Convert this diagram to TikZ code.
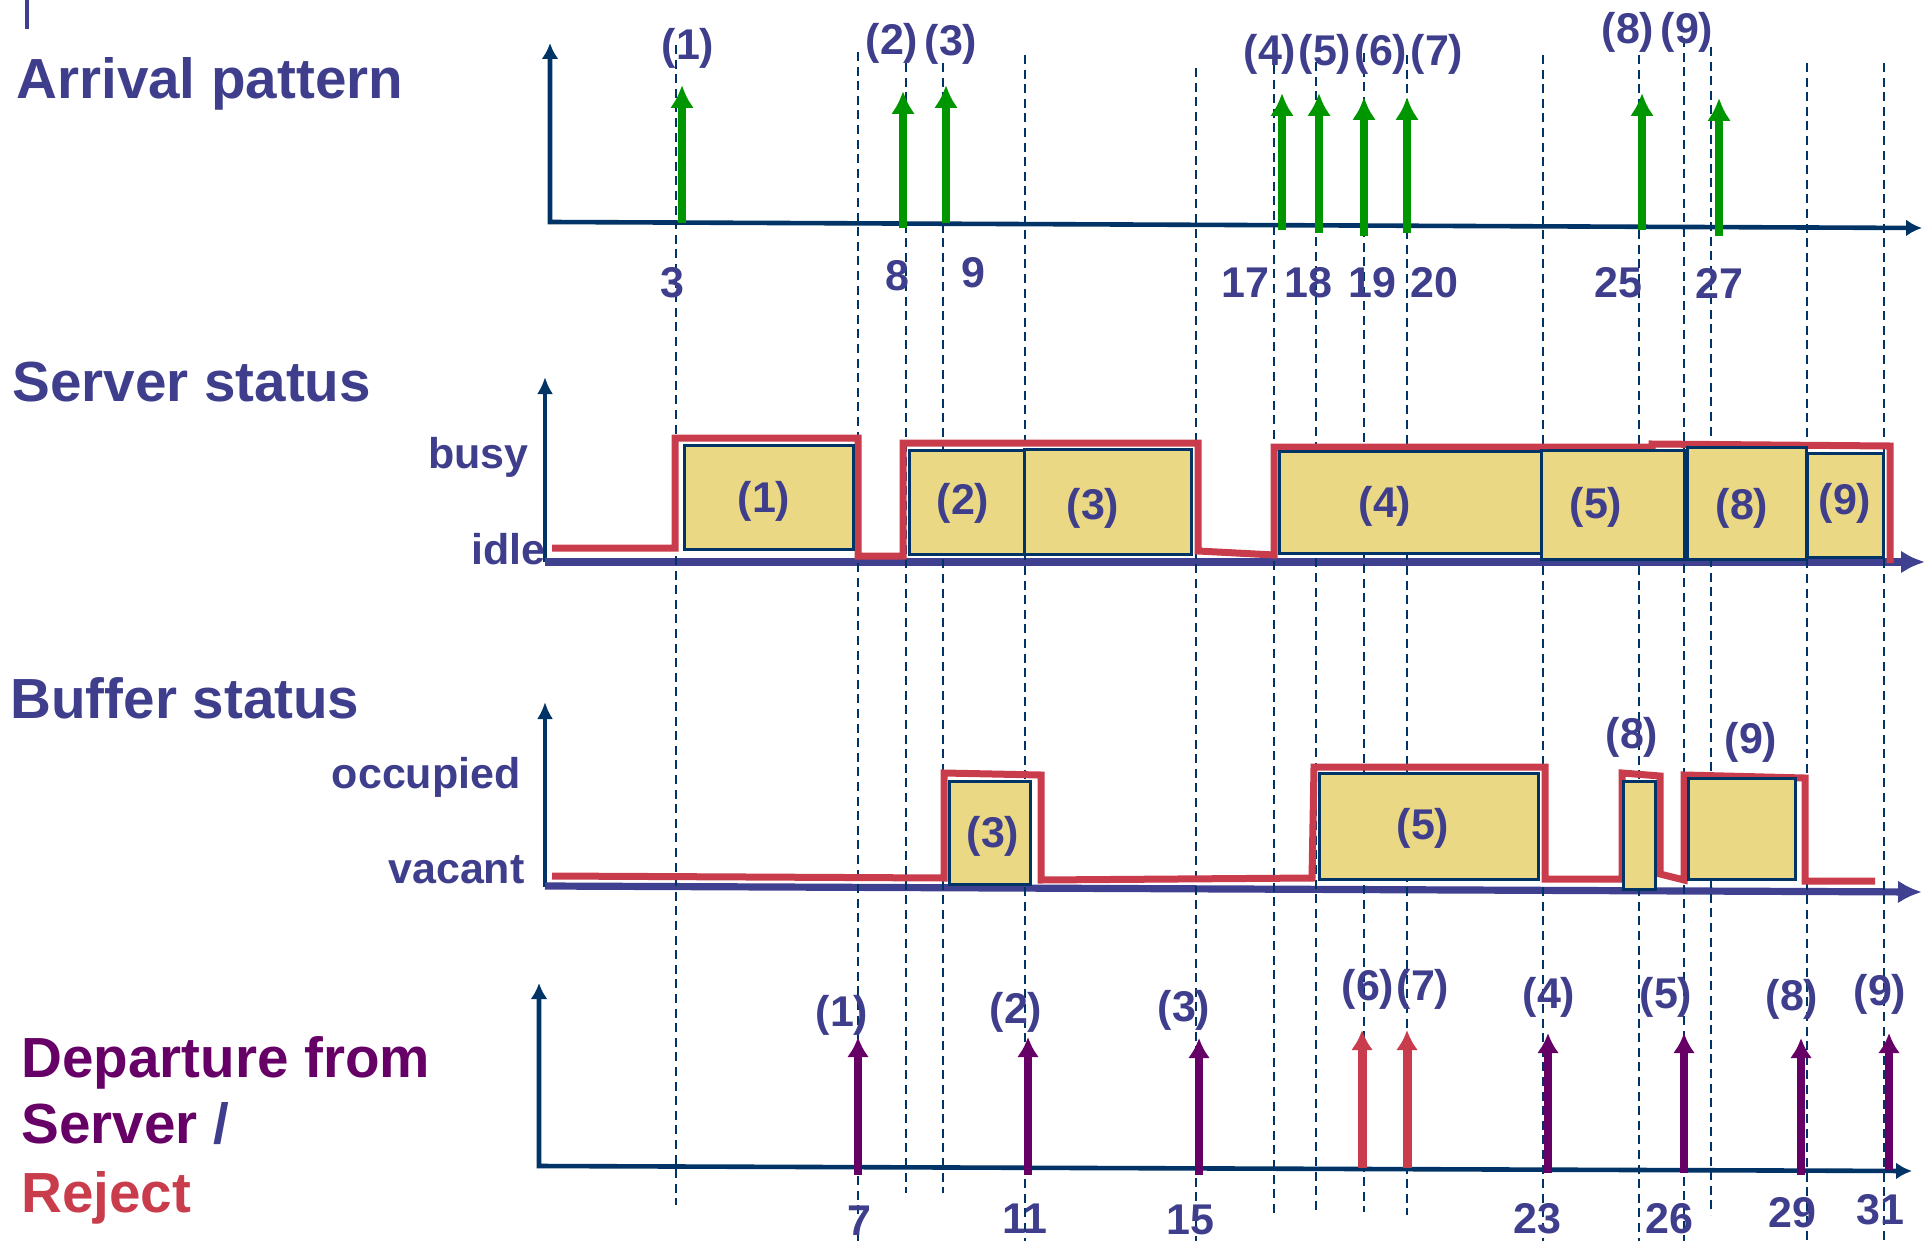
\documentclass[tikz,border=0pt]{standalone}
\usepackage{fontspec}
\setmainfont{Liberation Sans}
\usetikzlibrary{arrows.meta}
\definecolor{txtblue}{RGB}{62,62,140}
\definecolor{axisnavy}{RGB}{0,51,102}
\definecolor{basecol}{RGB}{64,64,144}
\definecolor{statered}{RGB}{200,60,75}
\definecolor{jobyellow}{RGB}{235,216,132}
\definecolor{arrgreen}{RGB}{0,150,0}
\definecolor{deppurple}{RGB}{102,0,102}
\newcommand{\jobbox}[8]{%
  \draw[jobfill] (#2,#3) rectangle (#4,#5);
  \node[lbl] (#1) at (#6,#7) {(#8)};}

\begin{document}
\begin{tikzpicture}[x=0.5pt, y=-0.5pt,
  title/.style={font=\fontsize{28.3}{34}\selectfont\bfseries, text=txtblue, inner sep=0pt, anchor=base west},
  lbl/.style={font=\fontsize{21.5}{26}\selectfont\bfseries, text=txtblue, inner sep=0pt},
  level/.style={lbl, anchor=base east},
  tick/.style={draw=axisnavy, line width=1.1pt, dash pattern=on 4.5pt off 2.8pt},
  axis/.style={draw=axisnavy, line width=2.3pt, line join=miter, >={Latex[length=8pt,width=8.5pt]}, <->},
  axisv/.style={draw=axisnavy, line width=1.8pt, ->, >={Latex[length=8.5pt,width=8pt]}},
  baseaxis/.style={draw=basecol, line width=3.6pt, ->, >={Latex[length=12pt,width=11.5pt]}},
  stateline/.style={draw=statered, line width=3.5pt, line join=miter},
  jobfill/.style={fill=jobyellow, draw=axisnavy, line width=1.5pt},
  arrin/.style={draw=arrgreen, line width=3.6pt, -{Latex[length=11.5pt,width=12pt]}},
  arrout/.style={draw=deppurple, line width=4pt, -{Latex[length=10pt,width=11pt]}},
  arrrej/.style={arrout, draw=statered, line width=4.5pt}]
  \useasboundingbox (0,0) rectangle (1930,1241);
  \draw[txtblue, line width=2.4pt] (27,0) -- (27,29);

  \draw[axis] (550,43) -- (550,222) -- (1922,228);
  \draw[axisv] (545,562) -- (545,377);
  \draw[baseaxis] (545,562) -- (1925,562);
  \draw[axisv] (545,887) -- (545,702);
  \draw[baseaxis] (545,886) -- (1922,892);
  \draw[axis] (539,983) -- (539,1166) -- (1912,1171);

  \foreach \x/\t/\b in {676/45/1205, 858/52/1241, 906/63/1193, 943/63/1193, 1025/55/1241,
      1196/68/1241, 1274/65/1215, 1316/62/1210, 1364/53/1212, 1407/55/1215, 1543/55/1241,
      1639/55/1241, 1684/38/1241, 1711/47/1215, 1807/63/1241, 1884/63/1241}
    \draw[tick] (\x,\t) -- (\x,\b);

  \foreach \x/\t/\b/\lx/\ly/\n in {682/85/223/688/48/1, 903/91/228/892/43/2, 946/85/223/951/44/3,
      1282/93/230/1270/54/4, 1319/93/233/1325/54/5, 1364/97/236/1381/54/6, 1407/97/233/1437/54/7,
      1642/93/230/1628/32/8, 1719/98/236/1687/32/9} {
    \draw[arrin] (\x,\b) -- (\x,\t);
    \node[lbl] (in\n) at (\lx,\ly) {(\n)};
  }
  \foreach \x/\y/\n in {672/283/3, 897/276/8, 973/273/9, 1245/283/17, 1308/283/18, 1372/283/19,
      1434/283/20, 1618/283/25, 1719/283/27}
    \node[lbl] (ta\n) at (\x,\y) {\n};

  \foreach \x/\t/\b/\lx/\ly/\n in {858/1037/1175/842/1015/1, 1028/1037/1175/1016/1012/2,
      1199/1038/1175/1184/1010/3, 1548/1033/1173/1549/997/4, 1684/1033/1173/1666/997/5,
      1801/1038/1175/1792/999/8, 1889/1033/1170/1880/994/9} {
    \draw[arrout] (\x,\b) -- (\x,\t);
    \node[lbl] (out\n) at (\lx,\ly) {(\n)};
  }
  \foreach \x/\t/\b/\lx/\ly/\n in {1362/1030/1168/1368/989/6, 1407/1030/1168/1423/989/7} {
    \draw[arrrej] (\x,\b) -- (\x,\t);
    \node[lbl] (out\n) at (\lx,\ly) {(\n)};
  }
  \foreach \x/\y/\n in {859/1221/7, 1025/1219/11, 1190/1220/15, 1537/1219/23, 1669/1219/26,
      1792/1213/29, 1880/1210/31}
    \node[lbl] (td\n) at (\x,\y) {\n};

  \draw[stateline] (552,548) -- (675,548) -- (675,438) -- (858,438) -- (858,556) -- (903,556)
    -- (903,443) -- (1198,443) -- (1198,551) -- (1274,555) -- (1274,447) -- (1652,447)
    -- (1652,444) -- (1890,446) -- (1890,563);
  \draw[stateline] (552,876) -- (944,878) -- (944,773) -- (1041,775) -- (1041,880) -- (1312,878)
    -- (1314,767) -- (1545,767) -- (1545,879) -- (1622,879) -- (1622,773) -- (1660,776)
    -- (1660,874) -- (1684,880) -- (1684,775) -- (1805,778) -- (1805,881) -- (1875,881);

  \jobbox{srv1}{684}{445}{853}{549}{764}{501}{1}
  \jobbox{srv2}{909}{450}{1024}{554}{963}{503}{2}
  \jobbox{srv3}{1024}{449}{1191}{554}{1093}{508}{3}
  \jobbox{srv4}{1279}{451}{1541}{553}{1385}{506}{4}
  \jobbox{srv5}{1541}{450}{1684}{559}{1596}{507}{5}
  \jobbox{srv8}{1687}{447}{1806}{559}{1742}{508}{8}
  \jobbox{srv9}{1807}{453}{1883}{557}{1845}{503}{9}
  \jobbox{buf3}{949}{781}{1030}{884}{993}{836}{3}
  \jobbox{buf5}{1319}{773}{1538}{879}{1423}{828}{5}
  \jobbox{buf8}{1623}{781}{1655}{889}{1632}{737}{8}
  \jobbox{buf9}{1688}{778}{1795}{879}{1751}{742}{9}

  \node[title] (arrtitle) at (16,99) {Arrival pattern};
  \node[title] (srvtitle) at (12,401) {Server status};
  \node[title] (buftitle) at (10,718) {Buffer status};
  \node[title, text=deppurple] (depline1) at (21,1077) {Departure from};
  \node[title, text=deppurple] (depline2) at (21,1143) {Server \textcolor{txtblue}{/}};
  \node[title, text=statered] (depline3) at (21,1212) {Reject};
  \node[level] (busy) at (529,468) {busy};
  \node[level] (idle) at (546,564) {idle};
  \node[level] (occupied) at (521,788) {occupied};
  \node[level] (vacant) at (525,883) {vacant};
\end{tikzpicture}
\end{document}
